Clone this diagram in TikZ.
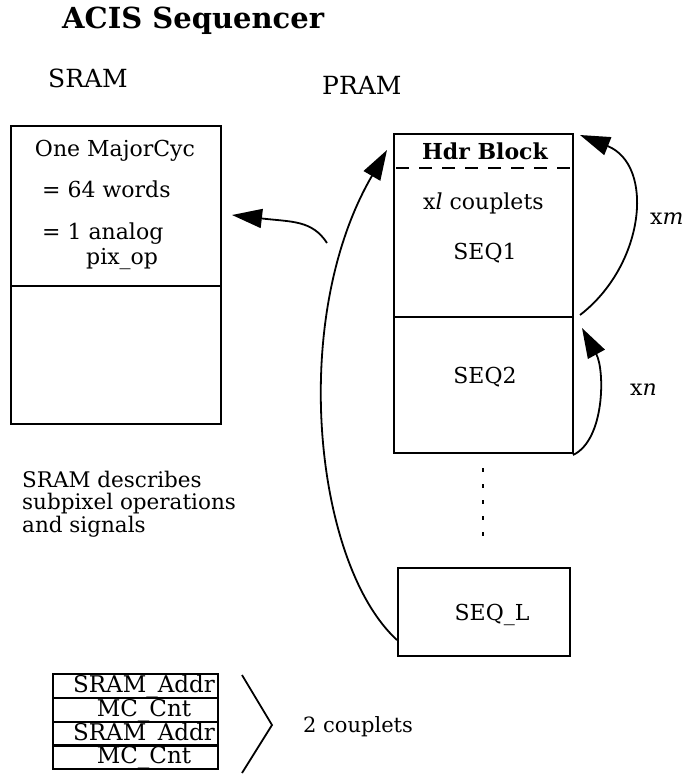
\documentclass[tikz,border=0pt]{standalone}
\usepackage{fontspec}
\setmainfont{DejaVu Serif}
\usetikzlibrary{arrows.meta}
\newcommand{\fsz}[1]{\fontsize{#1}{#1}\selectfont}
\begin{document}
\begin{tikzpicture}[x=1pt,y=-1pt,
  box/.style={draw, line width=2pt, inner sep=0pt, anchor=north west},
  lbl/.style={anchor=base west, inner sep=0pt},
  ctr/.style={anchor=base, inner sep=0pt},
  txt/.style={font=\fsz{22}},
  rule/.style={line width=2pt},
  conn/.style={line width=1.8pt, -{Triangle[length=30pt,width=19pt]}},
]
\useasboundingbox (0,0) rectangle (685,775);

% title and headings
\node[lbl, font=\bfseries\fsz{29}] (title) at (62,29) {ACIS Sequencer};
\node[lbl, font=\fsz{25}] (sramlbl) at (48,88) {SRAM};
\node[lbl, font=\fsz{25}] (pramlbl) at (322,95) {PRAM};

% SRAM box
\node[box, minimum width=210pt, minimum height=160pt] (sramtop) at (10,125) {};
\node[box, minimum width=210pt, minimum height=138pt] (srambot) at (10,285) {};
\node[ctr, txt] (t1) at (115,157) {One MajorCyc};
\node[lbl, txt] (t2) at (42,198) {= 64 words};
\node[lbl, txt] (t3) at (42,240) {= 1 analog};
\node[lbl, txt] (t4) at (86,265) {pix\_op};

% PRAM box
\node[box, minimum width=179pt, minimum height=319pt] (pram) at (393,133) {};
\coordinate (hdrL) at (393,168);
\coordinate (hdrR) at (572,168);
\coordinate (divL) at (393,317);
\coordinate (divR) at (572,317);
\draw[rule, dash pattern=on 13pt off 10pt, dash phase=-3pt] (hdrL) -- (hdrR);
\draw[rule] (divL) -- (divR);
\node[ctr, txt, font=\bfseries\fsz{22}] (hdr) at (485,160) {Hdr Block};
\node[lbl, txt] (xl) at (423,210) {x\textit{l} couplets};
\node[ctr, txt] (seq1) at (485,260) {SEQ1};
\node[ctr, txt] (seq2) at (485,383) {SEQ2};

% dots
\coordinate (dotA) at (483,468);
\coordinate (dotB) at (483,536);
\draw[line width=2.2pt, dash pattern=on 4pt off 12pt] (dotA) -- (dotB);

% SEQ_L box
\node[box, minimum width=172pt, minimum height=88pt] (seql) at (397,567) {};
\node[ctr, txt] (seqltxt) at (492,620) {SEQ\_L};

% loop arrows
\coordinate (xmS) at (580,315);
\coordinate (xmE) at (580,135);
\draw[conn] (xmS) .. controls (645,265) and (655,165) .. (xmE);
\node[lbl, txt] (xm) at (650,225) {x\textit{m}};

\coordinate (xnS) at (573,455);
\coordinate (xnE) at (582,328);
\draw[conn] (xnS) .. controls (605,440) and (605,370) .. (xnE);
\node[lbl, txt] (xn) at (630,395) {x\textit{n}};

% long return arrow
\coordinate (retS) at (397,640);
\coordinate (retE) at (387,150);
\draw[conn] (retS) .. controls (315,565) and (288,320) .. (retE);

% arrow to SRAM
\coordinate (toS) at (327,243);
\coordinate (toE) at (232,215);
\draw[conn] (toS) .. controls (312,220) and (292,222) .. (toE);

% description (base anchor = last line)
\node[lbl, font=\fontsize{21.5}{22.5}\selectfont, align=left] (desc) at (22,532)
  {SRAM describes\\subpixel operations\\and signals};

% couplet table
\foreach \i/\y/\t in {1/673/SRAM\_Addr, 2/697/MC\_Cnt, 3/721/SRAM\_Addr, 4/744/MC\_Cnt}{
  \node[box, minimum width=165pt, minimum height=23.5pt] (row\i) at (52,\y) {};
  \node[anchor=base, inner sep=0pt, font=\fsz{23}] (rowt\i) at (144,\y+19) {\t};
}
\coordinate (brA) at (242,675);
\coordinate (brB) at (272,725);
\coordinate (brC) at (242,773);
\draw[line width=1.8pt] (brA) -- (brB) -- (brC);
\node[lbl, font=\fsz{21}] (twoc) at (303,732) {2 couplets};
\end{tikzpicture}
\end{document}
